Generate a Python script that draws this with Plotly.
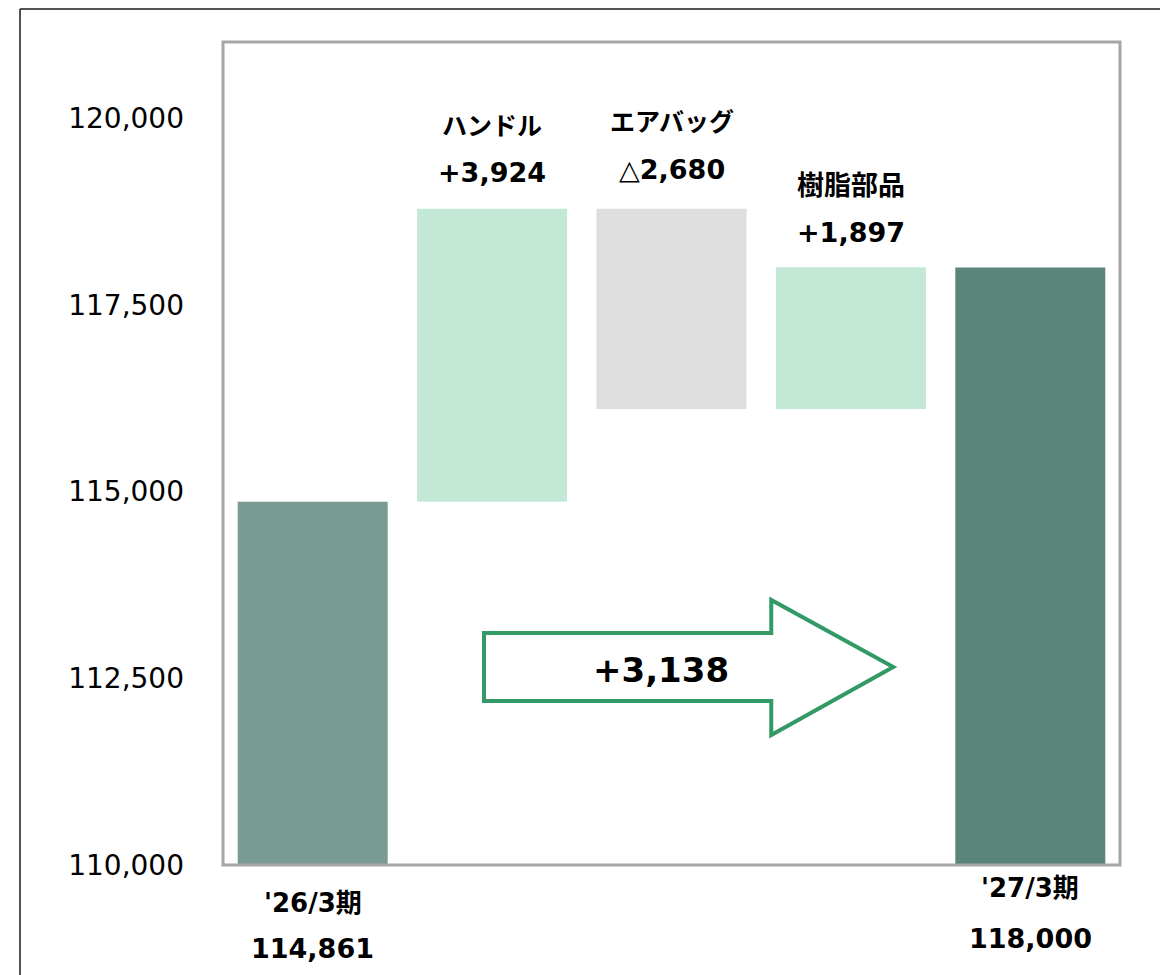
import plotly.graph_objects as go

# Data: sales bridge from FY'26/3 to FY'27/3 (million yen)
categories = ["'26/3期", "ハンドル", "エアバッグ", "樹脂部品", "'27/3期"]
start_value = 114861
deltas = [3924, -2680, 1897]
end_value = 118000
delta_labels = ["+3,924", "△2,680", "+1,897"]
total_change_label = "+3,138"
y_ticks = [110000, 112500, 115000, 117500, 120000]
y_tick_labels = ["110,000", "112,500", "115,000", "117,500", "120,000"]

# Colours
c_start = "#7a9b92"
c_end = "#5b857a"
c_up = "#c3e8d6"
c_down = "#dedede"
c_arrow = "#339966"

# Floating bar geometry
bases, heights, colors = [], [], []
bases.append(110000)
heights.append(start_value - 110000)
colors.append(c_start)
running = start_value
for d in deltas:
    lo = min(running, running + d)
    bases.append(lo)
    heights.append(abs(d))
    colors.append(c_up if d > 0 else c_down)
    running += d
bases.append(110000)
heights.append(end_value - 110000)
colors.append(c_end)

fig = go.Figure()
fig.add_trace(go.Bar(
    x=categories, y=heights, base=bases,
    marker=dict(color=colors, line=dict(width=0)),
    hoverinfo="skip", showlegend=False,
))

num_font = "DejaVu Sans, Noto Sans CJK JP"
jp_font = "Noto Sans CJK JP, DejaVu Sans"

annotations = []
# Labels above the change bars
running = start_value
label_shift = [(36, 85), (39, 89), (35, 84)]
name_sizes = [25, 25, 27]
for i, d in enumerate(deltas):
    top = max(running, running + d)
    running += d
    cat = categories[i + 1]
    vs, ns = label_shift[i]
    annotations.append(dict(x=cat, y=top, xref="x", yref="y", text="<b>" + delta_labels[i] + "</b>",
                            showarrow=False, yanchor="middle", yshift=vs,
                            font=dict(family=num_font, size=27, color="#000000")))
    annotations.append(dict(x=cat, y=top, xref="x", yref="y", text="<b>" + cat + "</b>",
                            showarrow=False, yanchor="middle", yshift=ns,
                            font=dict(family=jp_font, size=name_sizes[i], color="#000000")))

# Labels below the start / end bars
for cat, val, s1, s2 in [(categories[0], start_value, -38, -83), (categories[-1], end_value, -23, -73)]:
    annotations.append(dict(x=cat, y=110000, xref="x", yref="y", text="<b>" + cat + "</b>",
                            showarrow=False, yanchor="middle", yshift=s1,
                            font=dict(family=num_font, size=26, color="#000000")))
    annotations.append(dict(x=cat, y=110000, xref="x", yref="y", text="<b>" + f"{val:,}" + "</b>",
                            showarrow=False, yanchor="middle", yshift=s2,
                            font=dict(family=num_font, size=27, color="#000000")))

# Total change inside the arrow
annotations.append(dict(x=1.94, y=112610, xref="x", yref="y", text="<b>" + total_change_label + "</b>",
                        showarrow=False, font=dict(family=num_font, size=34, color="#000000")))

shapes = [
    # big outline arrow
    dict(type="path", xref="x", yref="y",
         path="M 0.955,113106 L 2.556,113106 L 2.556,113548 L 3.236,112651 "
              "L 2.556,111740 L 2.556,112195 L 0.955,112195 Z",
         line=dict(color=c_arrow, width=4), fillcolor="rgba(0,0,0,0)", layer="above"),
    # plot area frame
    dict(type="rect", xref="paper", yref="paper", x0=0, x1=1, y0=0, y1=1,
         line=dict(color="#a6a6a6", width=3), layer="above"),
    # outer page frame (top and left edges)
    dict(type="line", xref="paper", yref="paper", x0=-0.2263, x1=1.2, y0=1.0401, y1=1.0401,
         line=dict(color="#1a1a1a", width=1.5)),
    dict(type="line", xref="paper", yref="paper", x0=-0.2263, x1=-0.2263, y0=1.0401, y1=-0.2,
         line=dict(color="#1a1a1a", width=1.5)),
]

fig.update_layout(
    width=1160, height=975,
    margin=dict(l=223, r=40, t=42, b=110),
    paper_bgcolor="white", plot_bgcolor="white",
    bargap=0.164,
    annotations=annotations,
    shapes=shapes,
    xaxis=dict(range=[-0.5, 4.5], showticklabels=False, showline=False, showgrid=False,
               zeroline=False, ticks=""),
    yaxis=dict(range=[110000, 121017], tickvals=y_ticks, ticktext=y_tick_labels,
               showgrid=False, zeroline=False, showline=False, ticks="",
               ticklabelstandoff=38,
               tickfont=dict(family="DejaVu Sans", size=28, color="#000000")),
)

fig.write_html("out.html")
